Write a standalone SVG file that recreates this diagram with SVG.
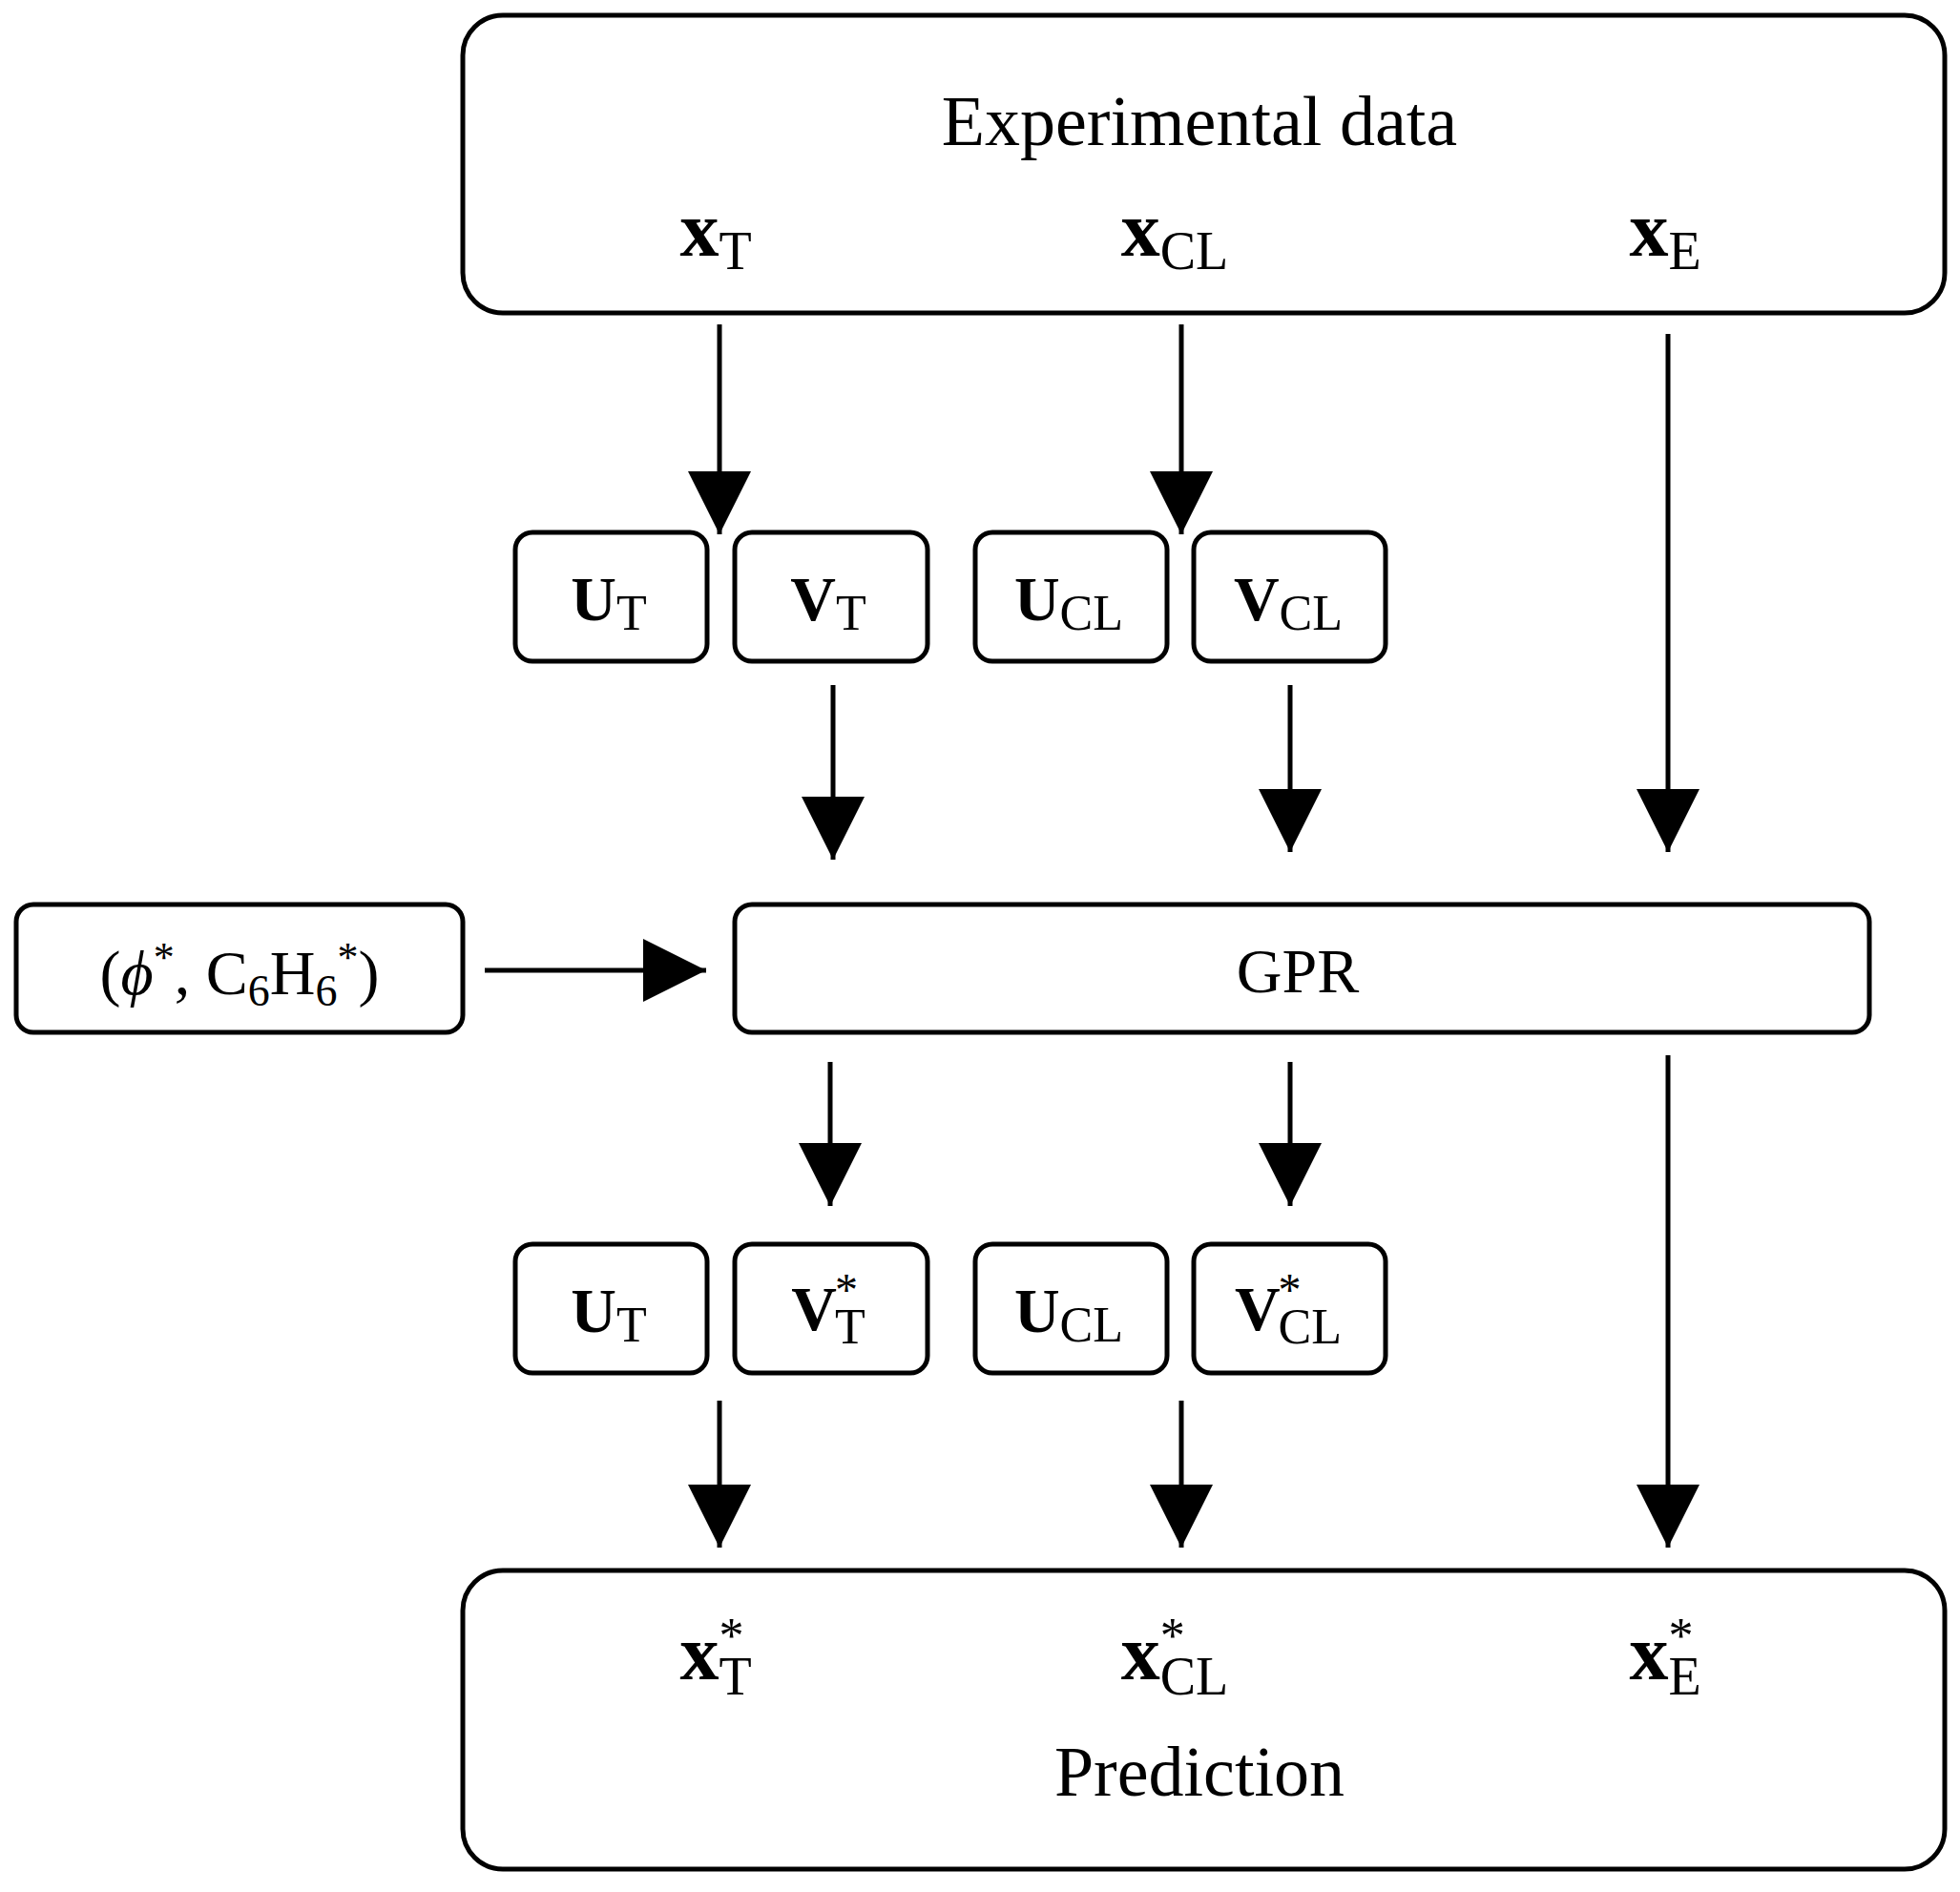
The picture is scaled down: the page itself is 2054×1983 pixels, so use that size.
<svg xmlns="http://www.w3.org/2000/svg" width="2054" height="1983" viewBox="0 0 2054 1983">
<style>
.b{fill:#fff;stroke:#000;stroke-width:5}
text{font-family:"Liberation Serif","DejaVu Serif",serif;fill:#000;text-anchor:middle}
.big{font-size:74px}
.m{font-size:82px}
.s{font-size:66px}
.bf{font-weight:bold}
.l{stroke:#000;stroke-width:5;fill:none;marker-end:url(#a)}
</style>
<defs><marker id="a" markerUnits="userSpaceOnUse" markerWidth="66" markerHeight="66" refX="66" refY="33" orient="auto"><path d="M0,0L66,33L0,66z" fill="#000"/></marker></defs>
<g id="experimental"><rect class="b" x="485" y="16" width="1553" height="312" rx="42"/>
<text class="big" x="1257" y="152">Experimental data</text>
<text class="m" x="750" y="268"><tspan class="bf">x</tspan><tspan font-size="56" dy="14">T</tspan></text>
<text class="m" x="1231" y="268"><tspan class="bf">x</tspan><tspan font-size="56" dy="14">CL</tspan></text>
<text class="m" x="1745" y="268"><tspan class="bf">x</tspan><tspan font-size="56" dy="14">E</tspan></text></g>
<g id="row1">
<g id="UT1"><rect class="b" x="540" y="558" width="201" height="135" rx="18"/><text class="s" x="638" y="650"><tspan class="bf">U</tspan><tspan font-size="52" dy="10">T</tspan></text></g>
<g id="VT1"><rect class="b" x="770" y="558" width="202" height="135" rx="18"/><text class="s" x="868" y="650"><tspan class="bf">V</tspan><tspan font-size="52" dy="10">T</tspan></text></g>
<g id="UCL1"><rect class="b" x="1022" y="558" width="201" height="135" rx="18"/><text class="s" x="1120" y="650"><tspan class="bf">U</tspan><tspan font-size="52" dy="10">CL</tspan></text></g>
<g id="VCL1"><rect class="b" x="1251" y="558" width="201" height="135" rx="18"/><text class="s" x="1350" y="650"><tspan class="bf">V</tspan><tspan font-size="52" dy="10">CL</tspan></text></g>
</g>
<g id="input"><rect class="b" x="17" y="948" width="468" height="134" rx="18"/><text class="s" x="251" y="1042">(<tspan font-style="italic">ϕ</tspan><tspan font-size="44" dy="-24">*</tspan><tspan dy="24">, C</tspan><tspan font-size="46" dy="12">6</tspan><tspan dy="-12">H</tspan><tspan font-size="46" dy="12">6</tspan><tspan font-size="44" dy="-36">*</tspan><tspan dy="24">)</tspan></text></g>
<g id="gpr"><rect class="b" x="770" y="948" width="1189" height="134" rx="18"/><text class="s" x="1360" y="1040">GPR</text></g>
<g id="row2">
<g id="UT2"><rect class="b" x="540" y="1304" width="201" height="135" rx="18"/><text class="s" x="638" y="1396"><tspan class="bf">U</tspan><tspan font-size="52" dy="10">T</tspan></text></g>
<g id="VT2"><rect class="b" x="770" y="1304" width="202" height="135" rx="18"/><text class="s" x="868" y="1394"><tspan class="bf">V</tspan><tspan font-size="48" dx="-2" dy="-26">*</tspan><tspan font-size="52" dx="-24" dy="40">T</tspan></text></g>
<g id="UCL2"><rect class="b" x="1022" y="1304" width="201" height="135" rx="18"/><text class="s" x="1120" y="1396"><tspan class="bf">U</tspan><tspan font-size="52" dy="10">CL</tspan></text></g>
<g id="VCL2"><rect class="b" x="1251" y="1304" width="201" height="135" rx="18"/><text class="s" x="1350" y="1394"><tspan class="bf">V</tspan><tspan font-size="48" dx="-2" dy="-26">*</tspan><tspan font-size="52" dx="-24" dy="40">CL</tspan></text></g>
</g>
<g id="prediction"><rect class="b" x="485" y="1646" width="1553" height="313" rx="42"/>
<text class="m" x="750" y="1760"><tspan class="bf">x</tspan><tspan font-size="52" dy="-28">*</tspan><tspan font-size="56" dx="-26" dy="44">T</tspan></text>
<text class="m" x="1231" y="1760"><tspan class="bf">x</tspan><tspan font-size="52" dy="-28">*</tspan><tspan font-size="56" dx="-26" dy="44">CL</tspan></text>
<text class="m" x="1745" y="1760"><tspan class="bf">x</tspan><tspan font-size="52" dy="-28">*</tspan><tspan font-size="56" dx="-26" dy="44">E</tspan></text>
<text class="big" x="1257" y="1882">Prediction</text></g>
<g id="connectors">
<path class="l" d="M754,340V560"/>
<path class="l" d="M1238,340V560"/>
<path class="l" d="M1748,350V893"/>
<path class="l" d="M873,718V901"/>
<path class="l" d="M1352,718V893"/>
<path class="l" d="M508,1017H740"/>
<path class="l" d="M870,1113V1264"/>
<path class="l" d="M1352,1113V1264"/>
<path class="l" d="M1748,1106V1622"/>
<path class="l" d="M754,1468V1622"/>
<path class="l" d="M1238,1468V1622"/>
</g>
</svg>
